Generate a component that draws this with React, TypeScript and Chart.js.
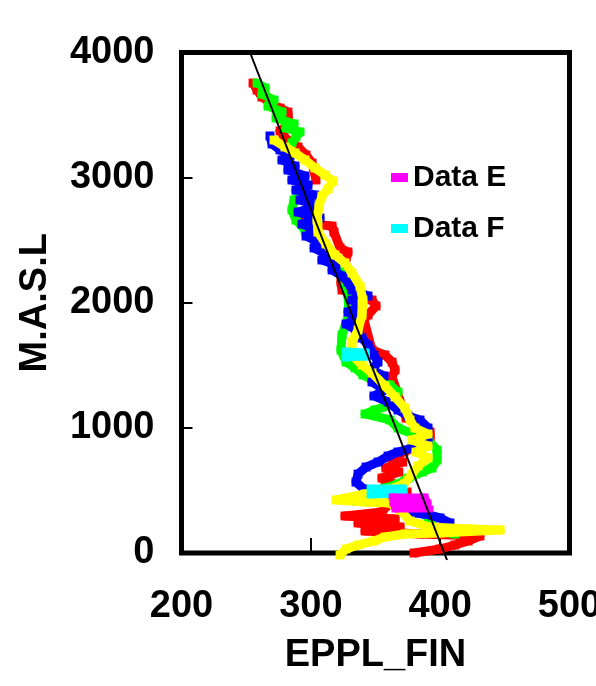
import React, { useEffect, useRef } from "react";
import { Chart, registerables } from "chart.js";

Chart.register(...registerables);

// ---- Axis definitions ----
const xTicks = [200, 300, 400, 500];
const yTicks = [0, 1000, 2000, 3000, 4000];
const xTitle = "EPPL_FIN";
const yTitle = "M.A.S.L";

// ---- Series: [EPPL_FIN, M.A.S.L]; null = gap in the record ----
const seriesNames = ["Data A", "Data B", "Data C", "Data D", "Data E", "Data F"];
const legendNames = ["Data E", "Data F"];

const dataA: ([number, number] | null)[] = [
  [255.3, 3756], [258.4, 3700], [262.2, 3644], [270.0, 3588], [276.2, 3556], [282.3, 3524],
  [283.1, 3429], [276.2, 3373], [279.3, 3325], [290.1, 3245], [296.3, 3181], [300.9, 3117],
  [304.0, 2981], null,
  [294.7, 2677], [300.9, 2629], [316.4, 2613], [317.9, 2565], [322.6, 2438], [328.7, 2406],
  [323.3, 2166], [324.1, 2102], [347.3, 2022], [350.4, 1974], [344.2, 1902], [341.1, 1862],
  [347.3, 1622], [357.3, 1582], [362.8, 1526], [365.1, 1463], [362.8, 1407],
  [373.6, 1079], [392.2, 967], [392.2, 903], [372.0, 807], [362.0, 759], [371.0, 727],
  [358.0, 679], [368.0, 647], [355.0, 599], [362.0, 559], [357.3, 527], [374.4, 488],
  [359.7, 384], [355.0, 328], [326.4, 296], [365.1, 272], [336.5, 240], [369.0, 208],
  [341.9, 176], [384.4, 152], [430.8, 136], [421.6, 96], [411.4, 64], [399.9, 32], [379.8, 0],
];

const dataB: ([number, number] | null)[] = [
  [258.4, 3756], [264.6, 3716], [262.2, 3668], [271.5, 3620], [266.9, 3572], [277.7, 3525],
  [273.1, 3477], [287.0, 3429], [280.8, 3397], [291.6, 3365], [288.5, 3325], [285.4, 3277],
  null,
  [293.2, 2885], [287.0, 2821], [285.4, 2741], [288.5, 2661], [295.5, 2581], [301.7, 2533],
  [311.0, 2422], [320.2, 2326], [324.1, 2278], [328.7, 2070], [329.5, 1910], [324.1, 1742],
  [323.3, 1622], [327.2, 1526], [334.2, 1479], [340.3, 1423], [348.1, 1383], [361.2, 1343],
  [367.4, 1287], [361.2, 1183], [349.6, 1143], [341.9, 1111], [361.2, 1063], [367.4, 999],
  [390.6, 903], [397.6, 823], [397.6, 743], [393.7, 679], [386.0, 647], [375.2, 599],
  [367.4, 551], [357.3, 519], [365.1, 384], [375.2, 336], [388.3, 312], [396.0, 184], [411.5, 152],
];

const dataC: ([number, number] | null)[] = [
  [268.4, 3333], [270.0, 3269], [276.2, 3221], [283.9, 3173], [277.7, 3141], [287.8, 3093],
  [282.3, 3061], [295.5, 3013], [285.4, 2981], [297.8, 2941], [288.5, 2901], [303.2, 2861],
  [291.6, 2821], [305.5, 2773], [290.1, 2725], [307.1, 2677], [293.2, 2629], [304.0, 2581],
  [296.3, 2533], [305.5, 2486], [302.5, 2438], [311.7, 2390], [308.6, 2342], [319.5, 2302],
  [316.4, 2262], [324.1, 2214], [328.7, 2166], [331.8, 2102], [344.2, 2054], [331.8, 2022],
  [339.6, 1974], [328.7, 1926], [336.5, 1878], [327.2, 1830], [334.9, 1782], [339.6, 1718],
  [344.2, 1662], [348.8, 1582], [351.9, 1526], [347.3, 1463], [356.6, 1415], [347.3, 1367],
  [357.3, 1303], [348.8, 1255], [359.7, 1207], [367.4, 1143], [375.1, 1095], [384.4, 1063],
  [390.6, 999], [384.4, 951], [390.6, 903], [378.2, 839], [367.4, 807], [359.7, 775],
  [351.9, 727], [342.7, 687], [336.5, 631], [334.9, 567], [341.1, 511], null,
  [372.8, 328], [388.3, 312], [399.9, 280], [407.6, 240],
];

const dataD: ([number, number] | null)[] = [
  [271.5, 3301], [280.0, 3245], [287.8, 3197], [295.5, 3141], [303.2, 3077], [311.0, 3021],
  [317.1, 2973], [313.3, 2909], [308.6, 2853], [306.3, 2773], [304.8, 2661], [305.5, 2565],
  [311.7, 2470], [318.7, 2382], [326.4, 2318], [331.8, 2238], [338.0, 2134], [340.3, 2022],
  [339.6, 1902], [336.5, 1782], [331.8, 1686], [331.8, 1582], [339.6, 1502], [347.3, 1439],
  [357.3, 1335], [365.1, 1247], [372.8, 1159], [376.7, 1063], [380.5, 999], [390.6, 951],
  [378.2, 903], [390.6, 855], [381.3, 807], [390.6, 759], [382.9, 695], [378.2, 631],
  [372.0, 551], [361.2, 511], [341.9, 472], [319.5, 424], [341.9, 408], [361.2, 400],
  [369.0, 344], [376.7, 256], [392.2, 208], [423.1, 192], [446.4, 184], [399.9, 160],
  [372.8, 152], [357.3, 128], [348.8, 96], [336.5, 64], [327.2, 32], [322.6, -16],
];

const dataE: ([number, number] | null)[] = [
  [362.8, 448], [388.3, 448], [390.6, 400], [363.5, 400], [365.1, 352], [392.2, 352],
];

const dataF: ([number, number] | null)[] = [
  [326.4, 1614], [342.7, 1606], [342.7, 1566], [326.4, 1558], null,
  [345.8, 519], [371.3, 519], [372.0, 472], [345.8, 464],
];

const trendLine: [number, number][] = [
  [253.0, 4000], [405.3, -56],
];

const seriesData = [dataA, dataB, dataC, dataD, dataE, dataF];
const seriesColors = ["#FF0000", "#00FF00", "#0000FF", "#FFFF00", "#FF00FF", "#00FFFF"];
const seriesOrder = [6, 5, 4, 3, 1, 2];
const seriesWidth = [9, 9, 9, 9, 7, 7];

const FONT = "'Liberation Sans', Arial, Helvetica, sans-serif";

const toPoints = (arr: ([number, number] | null)[]) =>
  arr.map((p) => (p === null ? { x: NaN, y: NaN } : { x: p[0], y: p[1] }));

const framePlugin = {
  id: "frameAndLegend",
  beforeDatasetsDraw(chart: any) {
    const { ctx, chartArea: a, scales } = chart;
    ctx.save();
    ctx.strokeStyle = "#000";
    ctx.lineWidth = 5;
    ctx.strokeRect(a.left, a.top, a.right - a.left, a.bottom - a.top);
    ctx.lineWidth = 2;
    yTicks.forEach((v) => {
      const y = Math.round(scales.y.getPixelForValue(v));
      ctx.beginPath();
      ctx.moveTo(a.left, y);
      ctx.lineTo(a.left + 11, y);
      ctx.stroke();
    });
    xTicks.forEach((v) => {
      const x = Math.round(scales.x.getPixelForValue(v));
      ctx.beginPath();
      ctx.moveTo(x, a.bottom);
      ctx.lineTo(x, a.bottom - 15);
      ctx.stroke();
    });
    ctx.restore();
  },
  afterDatasetsDraw(chart: any) {
    const { ctx, chartArea: a } = chart;
    ctx.save();
    ctx.font = `bold 30px ${FONT}`;
    ctx.textBaseline = "alphabetic";
    ctx.textAlign = "left";
    legendNames.forEach((name, i) => {
      const idx = seriesNames.indexOf(name);
      const baseY = a.top + 133.5 + i * 51;
      ctx.fillStyle = seriesColors[idx];
      ctx.fillRect(a.left + 209.5, baseY - 13, 17, 9);
      ctx.fillStyle = "#000";
      ctx.fillText(name, a.left + 231.5, baseY);
    });
    ctx.restore();
  },
};

export default function App() {
  const canvasRef = useRef<HTMLCanvasElement | null>(null);

  useEffect(() => {
    const canvas = canvasRef.current;
    if (!canvas) return;

    const datasets: any[] = seriesNames.map((name, i) => ({
      label: name,
      data: toPoints(seriesData[i]),
      showLine: true,
      borderColor: seriesColors[i],
      backgroundColor: seriesColors[i],
      borderWidth: seriesWidth[i],
      borderJoinStyle: "round",
      borderCapStyle: "butt",
      pointStyle: "rect",
      pointRadius: seriesWidth[i] * 0.7,
      pointBorderWidth: 0,
      pointBackgroundColor: seriesColors[i],
      spanGaps: false,
      order: seriesOrder[i],
      clip: false,
    }));
    datasets.push({
      label: "Trend",
      data: trendLine.map((p) => ({ x: p[0], y: p[1] })),
      showLine: true,
      borderColor: "#000",
      borderWidth: 2,
      pointRadius: 0,
      order: 0,
      clip: false,
    });

    const tickFont = { family: FONT, size: 38, weight: "bold" as const };

    const chart = new Chart(canvas, {
      type: "scatter",
      data: { datasets },
      plugins: [framePlugin],
      options: {
        responsive: false,
        animation: false,
        devicePixelRatio: 1,
        layout: { padding: { top: 52.5, right: 26.5, left: 0, bottom: 0 } },
        plugins: {
          legend: { display: false },
          tooltip: { enabled: false },
        },
        scales: {
          x: {
            type: "linear",
            position: "bottom",
            min: 200,
            max: 500,
            grid: { display: false },
            border: { display: false },
            afterBuildTicks: (s: any) => {
              s.ticks = xTicks.map((v) => ({ value: v }));
            },
            afterFit: (s: any) => {
              s.height = 133;
              s.paddingLeft = 0;
              s.paddingRight = 0;
            },
            ticks: {
              autoSkip: false,
              maxRotation: 0,
              padding: 23,
              color: "#000",
              font: tickFont,
              callback: (v: any) => String(v),
            },
            title: {
              display: true,
              text: xTitle,
              color: "#000",
              font: tickFont,
              padding: { top: 0, bottom: 8 },
            },
          },
          y: {
            type: "linear",
            min: 0,
            max: 4000,
            grid: { display: false },
            border: { display: false },
            afterBuildTicks: (s: any) => {
              s.ticks = yTicks.map((v) => ({ value: v }));
            },
            afterFit: (s: any) => {
              s.width = 181.5;
              s.paddingTop = 0;
              s.paddingBottom = 0;
            },
            ticks: {
              autoSkip: false,
              padding: 19,
              color: "#000",
              font: tickFont,
              callback: (v: any) => String(v),
            },
            title: {
              display: true,
              text: yTitle,
              color: "#000",
              font: tickFont,
              padding: { top: 13, bottom: 0 },
            },
          },
        },
      } as any,
    });

    return () => chart.destroy();
  }, []);

  return (
    <div style={{ position: "absolute", left: 0, top: 0, width: 596, height: 686, background: "#fff" }}>
      <canvas ref={canvasRef} width={596} height={686} style={{ display: "block" }} />
    </div>
  );
}
